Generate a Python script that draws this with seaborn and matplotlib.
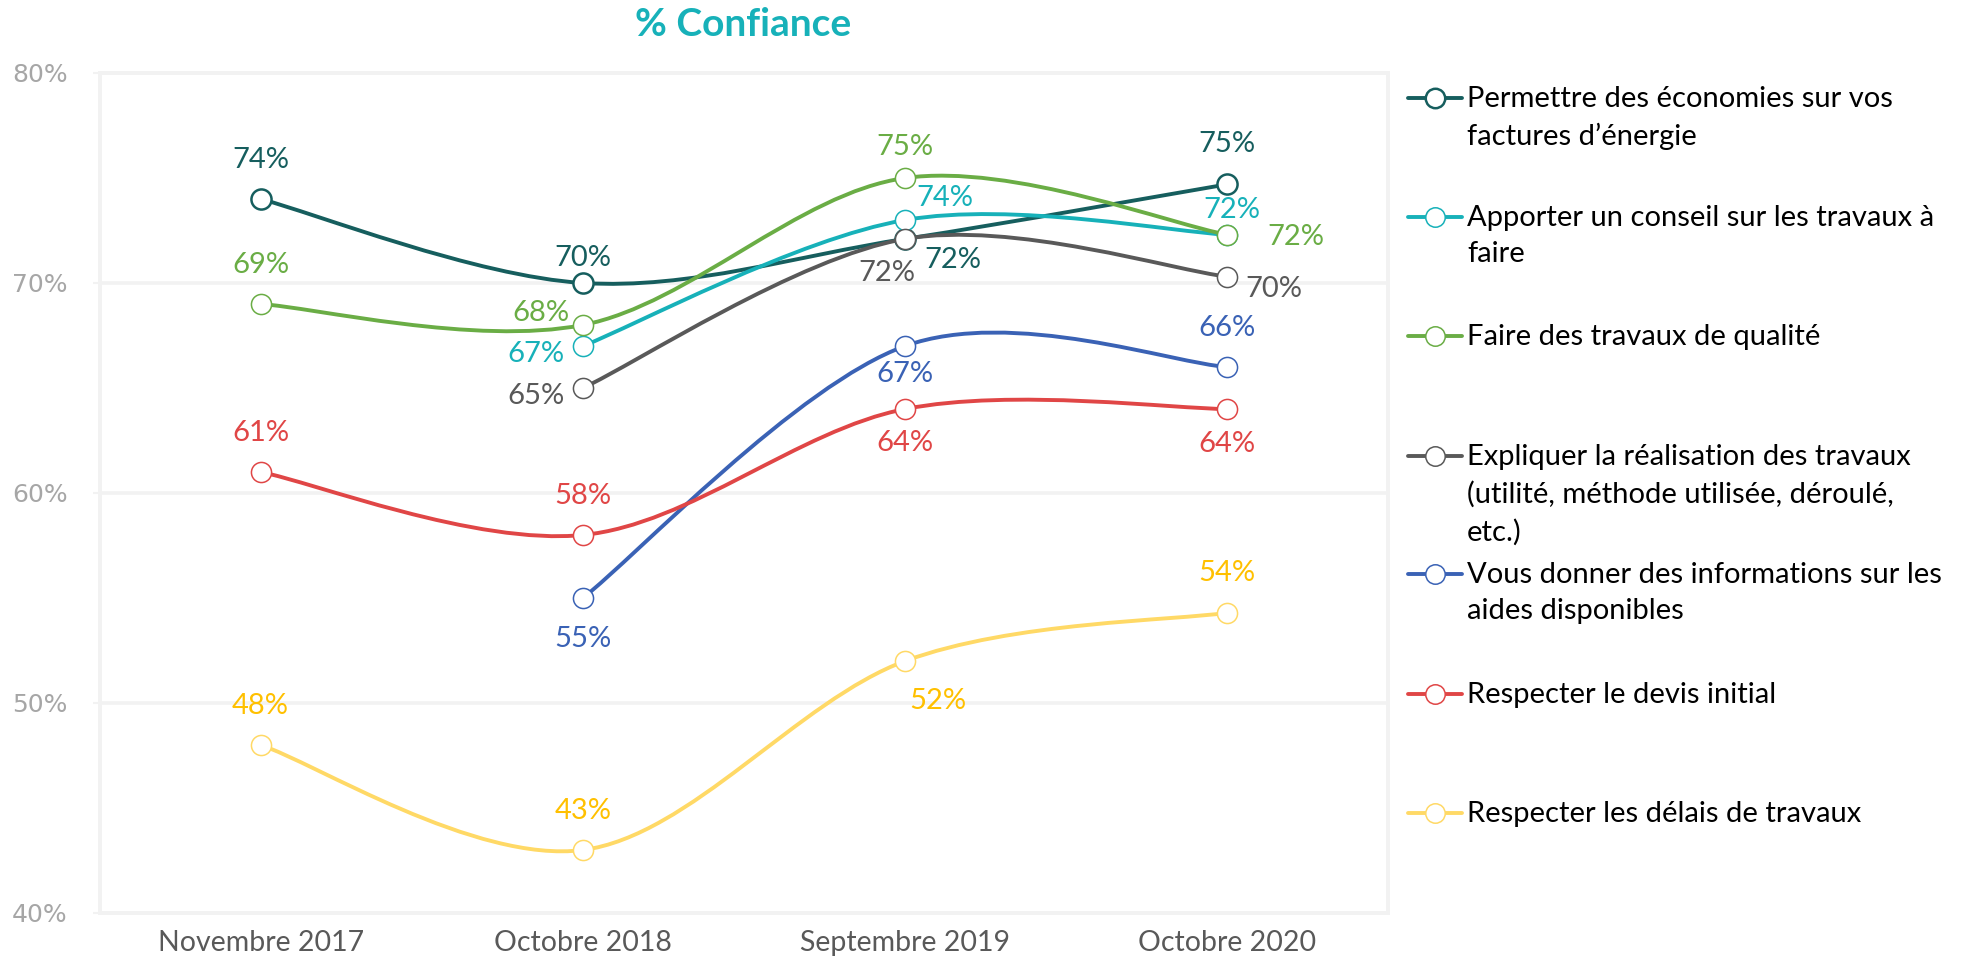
import numpy as np
import pandas as pd
import matplotlib.pyplot as plt
from matplotlib.path import Path
from matplotlib.patches import PathPatch
from matplotlib.lines import Line2D
import seaborn as sns

W, H = 1964, 959

periods = ['Novembre 2017', 'Octobre 2018', 'Septembre 2019', 'Octobre 2020']
y_ticks = [40, 50, 60, 70, 80]

economies = [74, 70, 72.1, 74.7]
conseil = [np.nan, 67, 73, 72.3]
qualite = [69, 68, 75, 72.3]
expliquer = [np.nan, 65, 72.1, 70.3]
aides = [np.nan, 55, 67, 66]
devis = [61, 58, 64, 64]
delais = [48, 43, 52, 54.3]

lab_economies = ['74%', '70%', '72%', '75%']
lab_conseil = [None, '67%', '74%', '72%']
lab_qualite = ['69%', '68%', '75%', '72%']
lab_expliquer = [None, '65%', '72%', '70%']
lab_aides = [None, '55%', '67%', '66%']
lab_devis = ['61%', '58%', '64%', '64%']
lab_delais = ['48%', '43%', '52%', '54%']

names = [
    'Permettre des économies sur vos\nfactures d’énergie',
    'Apporter un conseil sur les travaux à\nfaire',
    'Faire des travaux de qualité',
    'Expliquer la réalisation des travaux\n(utilité, méthode utilisée, déroulé,\netc.)',
    'Vous donner des informations sur les\naides disponibles',
    'Respecter le devis initial',
    'Respecter les délais de travaux',
]
values = [economies, conseil, qualite, expliquer, aides, devis, delais]
labels = [lab_economies, lab_conseil, lab_qualite, lab_expliquer, lab_aides, lab_devis, lab_delais]
colors = ['#165E5E', '#17B1B9', '#6AAD45', '#595959', '#3A62B5', '#E04646', '#FFD966']
label_colors = ['#165E5E', '#17B1B9', '#6AAD45', '#595959', '#3A62B5', '#E04646', '#FFC000']
edge_w = [1.8, 1.1, 1.1, 1.1, 1.1, 1.1, 1.1]

# label offsets in screen pixels (dx right, dy down)
offsets = [
    [(0, -39), (0, -25), (48, 21), (0, -40)],
    [None, (-47, 8), (40, -22), (5, -25)],
    [(0, -39), (-42, -12), (0, -31), (69, 2)],
    [None, (-47, 8), (-18, 34), (47, 12)],
    [None, (0, 41), (0, 28), (0, -39)],
    [(0, -39), (0, -39), (0, 34), (0, 35)],
    [(0, -39), (0, -39), (33, 40), (0, -40)],
]


def smooth_path(xs, ys):
    p = np.array([(x, y) for x, y in zip(xs, ys) if not np.isnan(y)], float)
    n = len(p)
    verts, codes = [p[0]], [Path.MOVETO]
    for i in range(n - 1):
        p0 = p[i - 1] if i > 0 else p[i]
        p3 = p[i + 2] if i + 2 < n else p[i + 1]
        verts += [p[i] + (p[i + 1] - p0) / 6, p[i + 1] - (p3 - p[i]) / 6, p[i + 1]]
        codes += [Path.CURVE4] * 3
    return Path(verts, codes)


sns.set_theme(style='white')
plt.rcParams['font.family'] = ['Lato', 'DejaVu Sans']

fig = plt.figure(figsize=(W / 100, H / 100), dpi=100)
ax = fig.add_axes([99.5 / W, 1 - 913 / H, 1289 / W, 840 / H])

x = np.arange(len(periods))
for i, (vals, col) in enumerate(zip(values, colors)):
    ax.add_patch(PathPatch(smooth_path(x, vals), facecolor='none', edgecolor=col,
                           lw=2.8, zorder=2 + 2 * i, capstyle='round'))
    df = pd.DataFrame({'x': x, 'y': vals}).dropna()
    sns.scatterplot(data=df, x='x', y='y', ax=ax, color='white', edgecolor=col,
                    linewidth=edge_w[i], s=210, zorder=3 + 2 * i, legend=False)
    for j, (v, t) in enumerate(zip(vals, labels[i])):
        if t is None or np.isnan(v):
            continue
        dx, dy = offsets[i][j]
        ax.annotate(t, (j, v), xytext=(dx, -dy), textcoords='offset pixels',
                    ha='center', va='center', fontsize=21, color=label_colors[i], zorder=20)

ax.set_xlim(-0.5, 3.5)
ax.set_ylim(40, 80)
ax.set_xticks(x)
ax.set_xticklabels(periods, fontsize=20.5, color='#595959')
ax.set_yticks(y_ticks)
ax.set_yticklabels([f'{v}%' for v in y_ticks], fontsize=18, color='#A6A6A6',
                   family=['Liberation Sans Narrow', 'DejaVu Sans'])
ax.tick_params(axis='x', length=0, pad=12)
ax.tick_params(axis='y', length=5, width=1.5, color='#F2F2F2', pad=18, left=True)
ax.set_xlabel('')
ax.set_ylabel('')
ax.yaxis.grid(True, color='#F2F2F2', lw=2.6)
ax.set_axisbelow(True)
for s in ax.spines.values():
    s.set_color('#F2F2F2')
    s.set_linewidth(2.8)

fig.text(743 / W, 1 - 25 / H, '% Confiance', ha='center', va='center',
         fontsize=28, fontweight='bold', color='#17B1B9')

# legend drawn by hand to keep Excel's layout
leg_y = [98, 217, 336, 456, 574, 694, 813]
for name, col, ew, yy in zip(names, colors, edge_w, leg_y):
    fig.add_artist(Line2D([1408 / W, 1462 / W], [1 - yy / H] * 2, transform=fig.transFigure,
                          color=col, lw=2.8))
    fig.add_artist(Line2D([1435 / W], [1 - yy / H], transform=fig.transFigure, marker='o',
                          markersize=14, markerfacecolor='white', markeredgecolor=col,
                          markeredgewidth=ew, lw=0))
    fig.text(1467 / W, 1 - (yy - 12) / H, name, ha='left', va='top', fontsize=21,
             color='black', linespacing=1.5)

fig.savefig('out.png', dpi=100)
